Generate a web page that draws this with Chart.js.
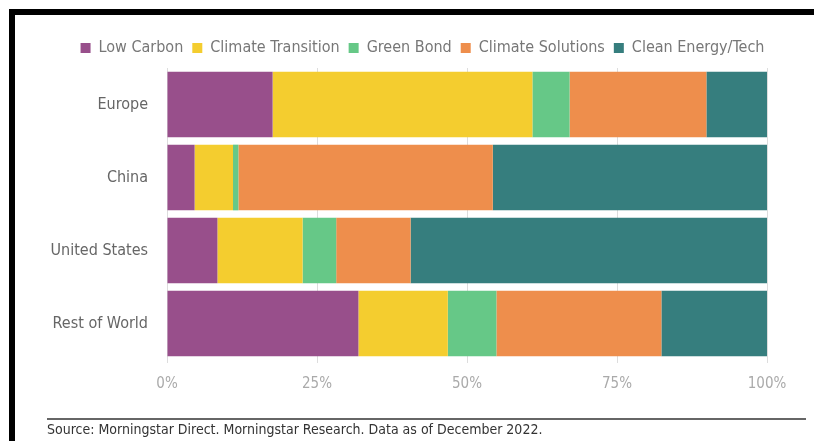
<!DOCTYPE html>
<html>
<head>
<meta charset="utf-8">
<script src="https://cdn.jsdelivr.net/npm/chart.js@4.4.0/dist/chart.umd.min.js"></script>
<style>
  html, body { margin: 0; padding: 0; background: #fff; }
  #wrap { position: relative; width: 814px; height: 441px; overflow: hidden; background: #fff; }
  #c { position: absolute; left: 0; top: 0; }
  .bar { position: absolute; background: #000; }
  #rule { position: absolute; left: 47px; top: 418px; width: 759px; height: 2px; background: #666; }
  #src { position: absolute; left: 47px; top: 421px; font-family: 'Liberation Sans Narrow', 'DejaVu Sans Condensed', 'Roboto Condensed', sans-serif; font-size: 14px; color: #333; white-space: nowrap; }
</style>
</head>
<body>
<div id="wrap">
  <canvas id="c" width="814" height="441"></canvas>
  <div class="bar" style="left:9px;top:9px;width:805px;height:6px;"></div>
  <div class="bar" style="left:9px;top:9px;width:6px;height:432px;"></div>
  <div id="rule"></div>
  <div id="src">Source: Morningstar Direct. Morningstar Research. Data as of December 2022.</div>
</div>
<script>
const categories = ["Europe", "China", "United States", "Rest of World"];
const seriesNames = ["Low Carbon", "Climate Transition", "Green Bond", "Climate Solutions", "Clean Energy/Tech"];
const lowCarbon         = [17.6,  4.6,  8.4, 31.9];
const climateTransition = [43.3,  6.4, 14.2, 14.9];
const greenBond         = [ 6.2,  0.9,  5.6,  8.1];
const climateSolutions  = [22.8, 42.4, 12.4, 27.5];
const cleanEnergyTech   = [10.1, 45.7, 59.4, 17.6];
const xTicks = [0, 25, 50, 75, 100];

const colors = ["#984F8B", "#F4CD2F", "#66C887", "#EE8E4C", "#367E7E"];
const seriesValues = [lowCarbon, climateTransition, greenBond, climateSolutions, cleanEnergyTech];
const FONT = "'Liberation Sans Narrow', 'DejaVu Sans Condensed', 'Roboto Condensed', sans-serif";

// Shift the legend so it is centred where the reference has it, and give it a little extra height.
const legendTweak = {
  id: 'legendTweak',
  beforeLayout(chart) {
    const lg = chart.legend;
    if (lg && !lg._tweaked) {
      const orig = lg.fit.bind(lg);
      lg.fit = function () { orig(); this.height += 2; };
      lg._tweaked = true;
    }
  },
  beforeDraw(chart) {
    const lg = chart.legend;
    if (!lg || lg._shifted) return;
    const dx = 422.5 - (lg.left + lg.right) / 2;
    lg.left += dx; lg.right += dx;
    lg._shifted = true;
  }
};

new Chart(document.getElementById('c'), {
  type: 'bar',
  data: {
    labels: categories,
    datasets: seriesNames.map((n, i) => ({
      label: n,
      data: seriesValues[i],
      backgroundColor: colors[i],
      borderWidth: 0,
      barPercentage: 0.9,
      categoryPercentage: 1.0
    }))
  },
  plugins: [legendTweak],
  options: {
    indexAxis: 'y',
    responsive: false,
    animation: false,
    devicePixelRatio: 1,
    layout: { padding: { left: 31, right: 47, top: 31, bottom: 0 } },
    plugins: {
      tooltip: { enabled: false },
      legend: {
        position: 'top',
        labels: {
          boxWidth: 10, boxHeight: 10, padding: 9,
          color: '#777',
          font: { family: FONT, size: 16 }
        }
      }
    },
    scales: {
      x: {
        stacked: true, min: 0, max: 100,
        afterBuildTicks: s => { s.ticks = xTicks.map(v => ({ value: v })); },
        afterFit: s => { s.height = 81; },
        grid: { color: '#dddddd', lineWidth: 1, drawTicks: true, tickLength: 3, tickColor: '#dddddd' },
        border: { display: false },
        ticks: { color: '#aaa', font: { family: FONT, size: 15 }, padding: 12, callback: v => v + '%' }
      },
      y: {
        stacked: true,
        afterFit: s => { s.width = 136; },
        grid: { display: false },
        border: { display: true, color: '#dddddd' },
        ticks: { color: '#666', font: { family: FONT, size: 16 }, padding: 11 }
      }
    }
  }
});
</script>
</body>
</html>
